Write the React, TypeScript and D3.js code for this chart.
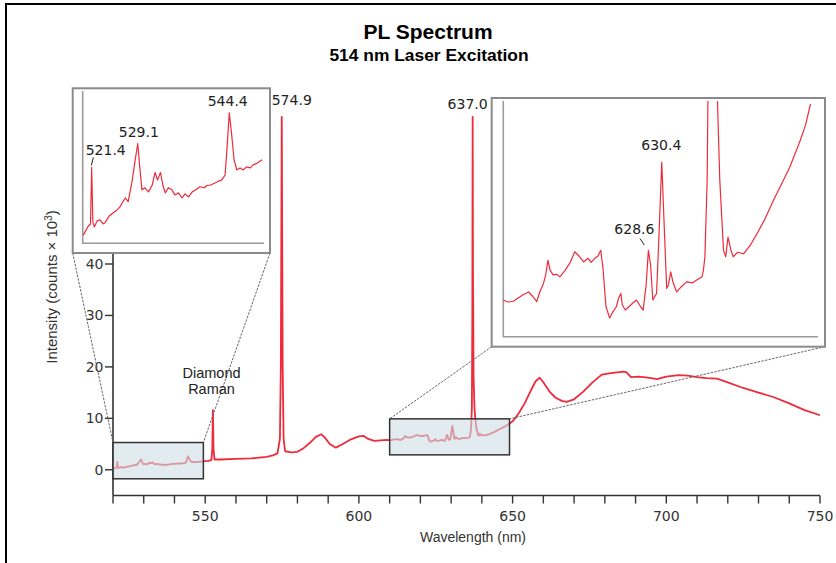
import React from "react";
import * as d3 from "d3";

// ---------- DATA ----------
// Zoomed region 1 (left inset): wavelength (nm), intensity (counts x 10^3)
const regionAWl = [520.0, 520.84, 521.2, 521.4, 521.6, 521.84, 522.3, 522.8, 523.3, 523.6, 524.3, 524.9, 525.6, 526.1, 526.6, 527.0, 527.5, 528.1, 528.6, 529.1, 529.4, 529.8, 530.3, 530.9, 531.5, 532.0, 532.4, 532.9, 533.3, 533.7, 534.2, 534.8, 535.3, 535.9, 536.5, 537.0, 537.6, 538.2, 538.8, 539.5, 540.2, 540.7, 541.2, 541.9, 542.6, 543.1, 543.7, 544.0, 544.4, 544.8, 545.2, 545.65, 546.2, 546.7, 547.3, 547.9, 548.4, 549.0, 549.9];
const regionAInt = [0.2, 0.38, 0.42, 1.53, 0.46, 0.36, 0.48, 0.5, 0.42, 0.44, 0.57, 0.63, 0.69, 0.75, 0.85, 0.93, 0.86, 1.22, 1.62, 2.0, 1.58, 1.09, 1.13, 1.05, 1.18, 1.43, 1.28, 1.43, 1.18, 1.03, 1.13, 1.09, 0.99, 1.03, 0.93, 1.01, 0.95, 1.05, 1.09, 1.15, 1.13, 1.18, 1.18, 1.22, 1.26, 1.28, 1.38, 1.87, 2.6, 2.17, 1.68, 1.48, 1.52, 1.48, 1.54, 1.52, 1.58, 1.61, 1.68];

// Between the two zoom regions
const midWl = [551.0, 552.0, 552.3, 552.5, 552.7, 553.0, 555, 560, 565, 570, 572, 573.5, 574.3, 574.6, 574.9, 575.2, 575.5, 576, 578, 580, 582, 584, 586, 587.8, 589, 590.5, 592.5, 594.5, 597, 600, 601.5, 603, 605, 607];
const midInt = [1.75, 1.9, 4, 11.6, 4, 2.0, 2.0, 2.1, 2.2, 2.5, 2.8, 3.2, 6, 20, 68.6, 20, 6, 3.6, 3.4, 3.5, 4.2, 5.2, 6.4, 6.9, 6.2, 5.0, 4.3, 4.9, 5.8, 6.5, 6.6, 6.0, 5.6, 5.7];

// Zoomed region 2 (right inset)
const regionBWl = [609.1, 609.7, 610.4, 611.1, 611.7, 612.5, 613.0, 613.6, 614.0, 614.5, 614.8, 615.1, 615.4, 615.8, 616.3, 616.7, 617.4, 618.1, 618.7, 619.3, 619.9, 620.5, 620.9, 621.4, 621.8, 622.2, 622.5, 622.9, 623.4, 623.8, 624.3, 624.6, 624.9, 625.1, 625.5, 626.1, 626.5, 627.0, 627.5, 627.9, 628.3, 628.6, 628.9, 629.2, 629.7, 630.0, 630.4, 630.7, 631.06, 631.3, 631.6, 631.9, 632.4, 633.0, 633.75, 634.5, 635.1, 635.8, 636.0, 636.2, 636.5, 636.75, 636.9, 637.0, 637.1, 637.3, 637.6, 637.9, 638.2, 638.7, 639.0, 639.3, 639.7, 640.0, 640.6, 641.4, 642.3, 643.2, 644.3, 645.4, 646.6, 647.6, 649.0, 649.7, 650.4];
const regionBInt = [5.8, 5.76, 5.77, 5.84, 5.9, 5.96, 5.88, 5.77, 5.96, 6.13, 6.3, 6.59, 6.39, 6.3, 6.31, 6.26, 6.39, 6.55, 6.76, 6.67, 6.56, 6.63, 6.55, 6.63, 6.67, 6.79, 6.43, 5.67, 5.44, 5.56, 5.67, 5.84, 5.93, 5.7, 5.6, 5.68, 5.74, 5.8, 5.68, 5.6, 6.1, 6.79, 6.49, 5.8, 5.93, 6.99, 8.54, 7.38, 6.03, 6.1, 6.36, 6.16, 5.96, 6.06, 6.16, 6.14, 6.2, 6.26, 6.39, 6.66, 8.18, 12, 30, 68.6, 40, 18, 12, 9.7, 8.18, 6.79, 6.66, 7.05, 6.79, 6.66, 6.75, 6.72, 6.89, 7.12, 7.42, 7.78, 8.14, 8.44, 8.97, 9.27, 9.7];

// Broad band tail
const tailWl = [652, 654, 656, 657.5, 658.8, 660, 662, 664, 666, 667.5, 670, 673, 676, 679, 682, 686, 687, 688.5, 691, 694, 697, 700, 704, 707, 710, 713, 716.5, 720, 725, 730, 735, 740, 745, 750];
const tailInt = [11.0, 13.0, 15.5, 17.2, 17.9, 17.0, 15.2, 14.0, 13.4, 13.2, 13.7, 15.2, 17.0, 18.5, 18.8, 19.1, 19.0, 18.0, 18.1, 17.9, 17.6, 18.1, 18.4, 18.3, 18.0, 17.8, 17.7, 17.0, 15.9, 15.0, 14.1, 12.9, 11.6, 10.6];

// Zoom boxes [wlMin, wlMax, intMin, intMax]
const zoomBoxA = [520, 549.4, -1.75, 5.3];
const zoomBoxB = [610, 649, 2.9, 9.9];

// Axis ticks
const xTicks = [520, 530, 540, 550, 560, 570, 580, 590, 600, 610, 620, 630, 640, 650, 660, 670, 680, 690, 700, 710, 720, 730, 740, 750];
const xTickLabels = [550, 600, 650, 700, 750];
const yTicks = [0, 10, 20, 30, 40];

// Peak annotations
const mainPeakLabels = [
  { text: "574.9", wl: 574.9 },
  { text: "637.0", wl: 637.0 },
];
const insetALabels = [
  { text: "521.4", wl: 521.4, v: 1.53 },
  { text: "529.1", wl: 529.1, v: 2.0 },
  { text: "544.4", wl: 544.4, v: 2.6 },
];
const insetBLabels = [
  { text: "628.6", wl: 628.6, v: 6.79 },
  { text: "630.4", wl: 630.4, v: 8.54 },
];

const zip = (a: number[], b: number[]) => a.map((w, i) => [w, b[i]] as [number, number]);
const regionA = zip(regionAWl, regionAInt);
const regionB = zip(regionBWl, regionBInt);
const fullSpectrum = [...regionA, ...zip(midWl, midInt), ...regionB, ...zip(tailWl, tailInt)];

// ---------- LAYOUT ----------
const W = 836, H = 563;
const x = d3.scaleLinear().domain([520, 750]).range([113, 820]);
const y = d3.scaleLinear().domain([-5, 40]).range([495.5, 264]);

const insetA = { x0: 72.7, y0: 88.3, x1: 270, y1: 253, ax: 82.7, ay: 243.3, axR: 264, axT: 91 };
const insetB = { x0: 491.7, y0: 98, x1: 825, y1: 346.7, ax: 503.3, ay: 336.7, axR: 818, axT: 101 };
const ixA = d3.scaleLinear().domain([520, 550.2]).range([83.3, 264]);
const iyA = d3.scaleLinear().domain([0.04, 3.05]).range([243.3, 90]);
const ixB = d3.scaleLinear().domain([609.1, 651.4]).range([503.3, 818]);
const iyB = d3.scaleLinear().domain([5.07, 9.76]).range([336.7, 101]);

const RED = "#ee2b3b";
const NUM_FONT = "'DejaVu Sans', sans-serif";
const TXT_FONT = "'Liberation Sans', Arial, sans-serif";

export default function App() {
  const mainLine = d3.line<[number, number]>().x(d => x(d[0])).y(d => y(d[1]))(fullSpectrum) || "";
  const lineA = d3.line<[number, number]>().x(d => ixA(d[0])).y(d => iyA(d[1]))(regionA) || "";
  const lineB = d3.line<[number, number]>().x(d => ixB(d[0])).y(d => iyB(d[1]))(regionB) || "";

  const bA = { x0: x(zoomBoxA[0]), x1: x(zoomBoxA[1]), y0: y(zoomBoxA[3]), y1: y(zoomBoxA[2]) };
  const bB = { x0: x(zoomBoxB[0]), x1: x(zoomBoxB[1]), y0: y(zoomBoxB[3]), y1: y(zoomBoxB[2]) };

  const axisColor = "#333";
  return (
    <svg width={W} height={H} style={{ position: "absolute", left: 0, top: 0, background: "#fff" }}>
      <defs>
        <clipPath id="clipA"><rect x={insetA.ax} y={insetA.axT} width={insetA.axR - insetA.ax} height={insetA.ay - insetA.axT} /></clipPath>
        <clipPath id="clipB"><rect x={insetB.ax} y={insetB.axT} width={insetB.axR - insetB.ax} height={insetB.ay - insetB.axT} /></clipPath>
      </defs>
      <rect x={0} y={0} width={W} height={H} fill="#fff" />
      {/* frame */}
      <rect x={6} y={4} width={W + 50} height={H + 50} fill="none" stroke="#000" strokeWidth={2} />

      {/* titles */}
      <text x={428} y={39} textAnchor="middle" fontFamily={TXT_FONT} fontWeight="bold" fontSize={21} fill="#000">PL Spectrum</text>
      <text x={429} y={60.5} textAnchor="middle" fontFamily={TXT_FONT} fontWeight="bold" fontSize={17.4} fill="#000">514 nm Laser Excitation</text>

      {/* axes */}
      <line x1={x(520)} x2={x(750)} y1={y(-5)} y2={y(-5)} stroke={axisColor} strokeWidth={1.6} />
      <line x1={x(520)} x2={x(520)} y1={y(-5)} y2={y(43)} stroke={axisColor} strokeWidth={1.6} />
      {xTicks.map(t => (
        <line key={"xt" + t} x1={x(t)} x2={x(t)} y1={y(-5)} y2={y(-5) + 8} stroke={axisColor} strokeWidth={1.4} />
      ))}
      {xTickLabels.map(t => (
        <text key={"xl" + t} x={x(t)} y={521} textAnchor="middle" fontFamily={NUM_FONT} fontSize={14} fill="#333">{t}</text>
      ))}
      {yTicks.map(t => (
        <g key={"yt" + t}>
          <line x1={x(520) - 8} x2={x(520)} y1={y(t)} y2={y(t)} stroke={axisColor} strokeWidth={1.4} />
          <text x={103.5} y={y(t)} dy="0.36em" textAnchor="end" fontFamily={NUM_FONT} fontSize={14} fill="#333">{t}</text>
        </g>
      ))}
      <text x={473} y={542} textAnchor="middle" fontFamily={TXT_FONT} fontSize={14} fill="#333">Wavelength (nm)</text>
      <text transform="translate(57,287) rotate(-90)" textAnchor="middle" fontFamily={TXT_FONT} fontSize={15} fill="#333">
        Intensity (counts × 10<tspan dy="-5" fontSize={10}>3</tspan><tspan dy="5">)</tspan>
      </text>

      {/* main spectrum */}
      <path d={mainLine} fill="none" stroke={RED} strokeWidth={1.8} strokeLinejoin="round" />

      {/* zoom boxes */}
      <rect x={bA.x0} y={bA.y0} width={bA.x1 - bA.x0} height={bA.y1 - bA.y0} fill="#cfdde5" fillOpacity={0.6} stroke="#333" strokeWidth={1.5} />
      <rect x={bB.x0} y={bB.y0} width={bB.x1 - bB.x0} height={bB.y1 - bB.y0} fill="#cfdde5" fillOpacity={0.6} stroke="#333" strokeWidth={1.5} />

      {/* connectors */}
      <g stroke="#666" strokeWidth={1} strokeDasharray="2.5,1.2" fill="none">
        <line x1={insetA.x0} y1={insetA.y1} x2={bA.x0} y2={bA.y0} />
        <line x1={insetA.x1} y1={insetA.y1} x2={bA.x1} y2={bA.y0} />
        <line x1={insetB.x0} y1={insetB.y1} x2={bB.x0} y2={bB.y0} />
        <line x1={insetB.x1} y1={insetB.y1} x2={bB.x1} y2={bB.y0} />
      </g>

      {/* Diamond Raman label */}
      <text x={211.5} y={378.3} textAnchor="middle" fontFamily={TXT_FONT} fontSize={14.5} fill="#222">Diamond</text>
      <text x={211.5} y={394.3} textAnchor="middle" fontFamily={TXT_FONT} fontSize={14.5} fill="#222">Raman</text>

      {/* main peak labels */}
      <text x={x(mainPeakLabels[0].wl) + 10} y={105} textAnchor="middle" fontFamily={NUM_FONT} fontSize={14} fill="#222">{mainPeakLabels[0].text}</text>
      <text x={x(mainPeakLabels[1].wl) - 5} y={109} textAnchor="middle" fontFamily={NUM_FONT} fontSize={14} fill="#222">{mainPeakLabels[1].text}</text>

      {/* inset A */}
      <rect x={insetA.x0} y={insetA.y0} width={insetA.x1 - insetA.x0} height={insetA.y1 - insetA.y0} fill="#fff" stroke="#8a8a8a" strokeWidth={2} />
      <path d={`M${insetA.ax},${insetA.axT}V${insetA.ay}H${insetA.axR}`} fill="none" stroke="#9a9a9a" strokeWidth={1.6} />
      <path d={lineA} clipPath="url(#clipA)" fill="none" stroke={RED} strokeWidth={1.2} strokeLinejoin="round" />
      <text x={ixA(insetALabels[0].wl) - 6} y={155} fontFamily={NUM_FONT} fontSize={14} fill="#222">{insetALabels[0].text}</text>
      <line x1={93.3} y1={157.5} x2={91.3} y2={165.5} stroke="#222" strokeWidth={1} />
      <text x={ixA(insetALabels[1].wl) - 19} y={137.3} fontFamily={NUM_FONT} fontSize={14} fill="#222">{insetALabels[1].text}</text>
      <text x={ixA(insetALabels[2].wl) - 21.6} y={106} fontFamily={NUM_FONT} fontSize={14} fill="#222">{insetALabels[2].text}</text>

      {/* inset B */}
      <rect x={insetB.x0} y={insetB.y0} width={insetB.x1 - insetB.x0} height={insetB.y1 - insetB.y0} fill="#fff" stroke="#8a8a8a" strokeWidth={2} />
      <path d={`M${insetB.ax},${insetB.axT}V${insetB.ay}H${insetB.axR}`} fill="none" stroke="#9a9a9a" strokeWidth={1.6} />
      <path d={lineB} clipPath="url(#clipB)" fill="none" stroke={RED} strokeWidth={1.2} strokeLinejoin="round" />
      <text x={ixB(insetBLabels[0].wl) - 34} y={234.3} fontFamily={NUM_FONT} fontSize={14} fill="#222">{insetBLabels[0].text}</text>
      <line x1={640} y1={238.5} x2={644.3} y2={245} stroke="#222" strokeWidth={1} />
      <text x={ixB(insetBLabels[1].wl) - 20.5} y={150} fontFamily={NUM_FONT} fontSize={14} fill="#222">{insetBLabels[1].text}</text>
    </svg>
  );
}
